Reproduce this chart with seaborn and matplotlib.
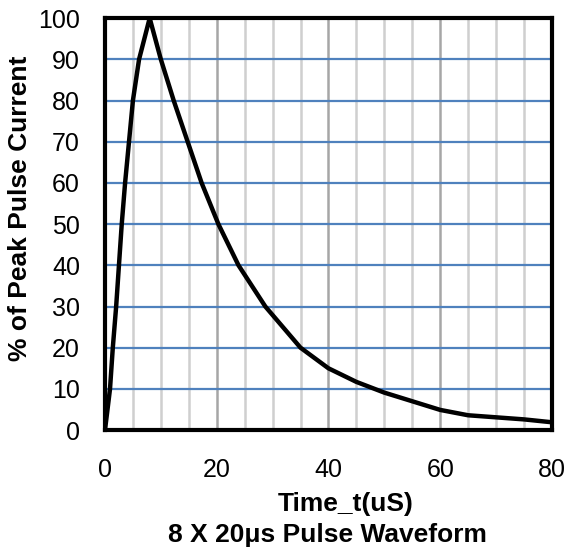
# 8 x 20us pulse waveform, percent of peak current vs time

import matplotlib
matplotlib.use("Agg")
import matplotlib.pyplot as plt
import pandas as pd
import seaborn as sns

# values
time_us = [0, 0.9, 1.4, 2.0, 2.5, 3.0, 3.6, 4.3, 5.0, 6.1, 8.0,
           10.0, 12.3, 14.8, 17.3, 20.3, 23.9, 28.7, 35.0, 40.0, 45.0,
           50.0, 55.0, 60.0, 65.0, 70.0, 75.0, 80.0]
pct_peak = [0, 10, 20, 30, 40, 50, 60, 70, 80, 90, 100,
            90, 80, 70, 60, 50, 40, 30, 20, 15.0, 11.7,
            9.1, 7.0, 4.9, 3.6, 3.1, 2.6, 1.9]
x_ticks = [0, 20, 40, 60, 80]
x_minor = [5, 10, 15, 25, 30, 35, 45, 50, 55, 65, 70, 75]
y_ticks = [0, 10, 20, 30, 40, 50, 60, 70, 80, 90, 100]


def main():
    sns.set_style("white")
    plt.rcParams["font.family"] = ["Liberation Sans", "DejaVu Sans"]
    plt.rcParams["text.color"] = "black"

    df = pd.DataFrame({"t": time_us, "pct": pct_peak})

    fig = plt.figure(figsize=(5.69, 5.5), dpi=100)
    ax = fig.add_axes([0.1845, 0.218, 0.7855, 0.749])

    # grid first so the curve sits on top
    ax.set_xticks(x_ticks)
    ax.set_xticks(x_minor, minor=True)
    ax.set_yticks(y_ticks)
    ax.grid(which="minor", axis="x", color="#cfcfcf", lw=1.8)
    ax.grid(which="major", axis="x", color="#a6a6a6", lw=1.8)
    ax.grid(which="major", axis="y", color="#4f81bd", lw=1.6)
    ax.set_axisbelow(True)

    sns.lineplot(data=df, x="t", y="pct", color="black", lw=3.2, ax=ax,
                 sort=False, solid_joinstyle="round")

    ax.set_xlim(0, 80)
    ax.set_ylim(0, 100)
    ax.set_xlabel("")
    ax.set_ylabel("")

    for side in ax.spines.values():
        side.set_visible(True)
        side.set_color("black")
        side.set_linewidth(3)

    ax.tick_params(which="both", length=0, labelsize=18, colors="black")
    ax.tick_params(axis="x", pad=20)
    ax.tick_params(axis="y", pad=18)

    # axis titles placed like the original excel export
    fig.text(346 / 569, 1 - 511 / 550, "Time_t(uS)", ha="center",
             va="baseline", fontsize=19, fontweight="bold")
    fig.text(327 / 569, 1 - 542 / 550, "8 X 20μs Pulse Waveform", ha="center",
             va="baseline", fontsize=19, fontweight="bold")
    fig.text(20 / 569, 1 - 208 / 550, "% of Peak Pulse Current", ha="center",
             va="center", rotation=90, fontsize=19, fontweight="bold")

    fig.savefig("out.png", dpi=100)


if __name__ == "__main__":
    main()
